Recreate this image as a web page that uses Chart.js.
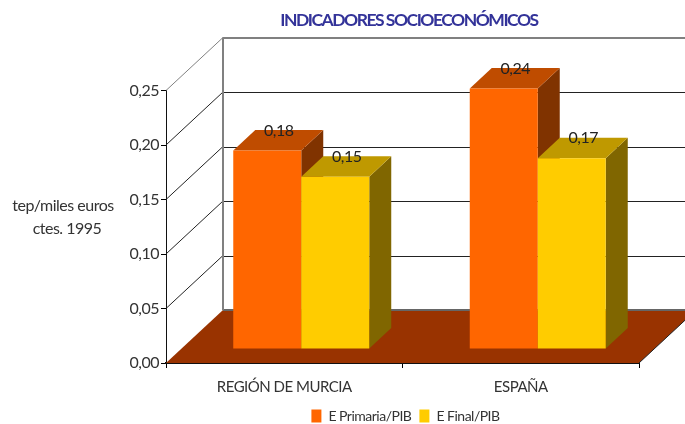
<!DOCTYPE html>
<html>
<head>
<meta charset="utf-8">
<style>html,body{margin:0;padding:0;background:#fff}canvas{display:block}</style>
<script src="https://cdn.jsdelivr.net/npm/chart.js@4"></script>
</head>
<body>
<canvas id="c" width="685" height="424"></canvas>
<script>
const categories = ["REGIÓN DE MURCIA", "ESPAÑA"];
const primariaValues = [0.182, 0.239];
const finalValues = [0.158, 0.175];
const primariaLabels = ["0,18", "0,24"];
const finalLabels = ["0,15", "0,17"];
const seriesNames = ["E Primaria/PIB", "E Final/PIB"];
const axisTitleLines = ["tep/miles euros", "ctes. 1995"];
const chartTitle = "INDICADORES SOCIOECONÓMICOS";

const FONT = 'Lato,"Open Sans",sans-serif';
const TEXT_SPACING = "-0.5px";
const TITLE_SPACING = "-1.5px";
const WALL = {dx: 57, dy: -53};
const BAR_SHIFT = {x: 17, y: -14};
const BAR_DEPTH = {dx: 22, dy: -20.5};
const faces = [
  {top: "#BF4C00", side: "#803300", labels: primariaLabels},
  {top: "#BF9900", side: "#806600", labels: finalLabels}
];

const box3d = {
  id: "box3d",
  beforeUpdate(chart) { chart.ctx.letterSpacing = TEXT_SPACING; },
  beforeDraw(chart) { chart.ctx.letterSpacing = TEXT_SPACING; },
  beforeDatasetsDraw(chart) {
    const {ctx, chartArea: a, scales: {y}} = chart;
    const x0 = a.left, x1 = a.right, y0 = y.getPixelForValue(0);
    ctx.save();
    // floor
    ctx.fillStyle = "#993300";
    ctx.beginPath();
    ctx.moveTo(x0, y0); ctx.lineTo(x1, y0);
    ctx.lineTo(x1 + WALL.dx, y0 + WALL.dy); ctx.lineTo(x0 + WALL.dx, y0 + WALL.dy);
    ctx.closePath(); ctx.fill();
    ctx.strokeStyle = "#222"; ctx.lineWidth = 1;
    ctx.beginPath(); ctx.moveTo(x1, y0); ctx.lineTo(x1 + WALL.dx, y0 + WALL.dy); ctx.stroke();
    // wall grid
    y.ticks.forEach(t => {
      const py = y.getPixelForValue(t.value);
      const isTop = t.value >= y.max - 1e-9, isZero = t.value <= 1e-9;
      ctx.strokeStyle = isTop ? "#808080" : (isZero ? "#666" : "#222");
      ctx.lineWidth = (isTop || isZero) ? 2 : 1;
      const by = Math.round(py + WALL.dy) + ((isTop || isZero) ? 0 : 0.5);
      ctx.beginPath(); ctx.moveTo(x0 + WALL.dx, by); ctx.lineTo(x1 + WALL.dx, by); ctx.stroke();
      ctx.strokeStyle = isTop ? "#808080" : "#222"; ctx.lineWidth = 1;
      if (!isZero) {
        ctx.beginPath(); ctx.moveTo(x0, py); ctx.lineTo(x0 + WALL.dx, py + WALL.dy); ctx.stroke();
      }
    });
    ctx.strokeStyle = "#808080"; ctx.lineWidth = 2;
    ctx.beginPath(); ctx.moveTo(x0 + WALL.dx, y.getPixelForValue(y.max) + WALL.dy);
    ctx.lineTo(x0 + WALL.dx, y0 + WALL.dy); ctx.stroke();
    ctx.restore();
  },
  // the library's default back-to-front order is replaced: series are painted left to right
  beforeDatasetDraw() { return false; },
  afterDatasetsDraw(chart) {
    const {ctx} = chart;
    ctx.save();
    ctx.translate(BAR_SHIFT.x, BAR_SHIFT.y);
    const {dx, dy} = BAR_DEPTH;
    faces.forEach((f, i) => {
      chart.getDatasetMeta(i).data.forEach(b => {
        const hw = b.width / 2, l = b.x - hw, r = b.x + hw, t = b.y, bt = b.base;
        ctx.fillStyle = f.side;
        ctx.beginPath();
        ctx.moveTo(r, t); ctx.lineTo(r + dx, t + dy); ctx.lineTo(r + dx, bt + dy); ctx.lineTo(r, bt);
        ctx.closePath(); ctx.fill();
        ctx.fillStyle = f.top;
        ctx.beginPath();
        ctx.moveTo(l, t); ctx.lineTo(l + dx, t + dy); ctx.lineTo(r + dx, t + dy); ctx.lineTo(r, t);
        ctx.closePath(); ctx.fill();
        b.draw(ctx);
      });
    });
    ctx.restore();
    ctx.save();
    ctx.font = "16px " + FONT;
    ctx.fillStyle = "#222";
    ctx.textAlign = "center"; ctx.textBaseline = "middle";
    faces.forEach((f, i) => {
      chart.getDatasetMeta(i).data.forEach((b, j) => {
        ctx.fillText(f.labels[j], b.x + BAR_SHIFT.x + 11.5, b.y + BAR_SHIFT.y - 20);
      });
    });
    ctx.restore();
  },
  afterDraw(chart) {
    const {ctx} = chart;
    ctx.save();
    ctx.font = "16px " + FONT;
    ctx.fillStyle = "#333";
    ctx.textAlign = "center"; ctx.textBaseline = "middle";
    ctx.fillText(axisTitleLines[0], 63, 206);
    ctx.fillText(axisTitleLines[1], 67, 229);
    ctx.restore();
  },
  afterLayout(chart) {
    const t = chart.titleBlock, lg = chart.legend, ctx = chart.ctx;
    t.left += 6.5; t.right += 6.5;
    lg.left += 3; lg.right += 3; lg.top -= 3; lg.bottom -= 3;
    if (!t._spaced) {
      t._spaced = true;
      const draw = t.draw;
      t.draw = function () {
        ctx.letterSpacing = TITLE_SPACING;
        draw.call(t);
        ctx.letterSpacing = TEXT_SPACING;
      };
    }
  }
};

new Chart(document.getElementById("c"), {
  type: "bar",
  data: {
    labels: categories,
    datasets: [
      {label: seriesNames[0], data: primariaValues, backgroundColor: "#FF6600"},
      {label: seriesNames[1], data: finalValues, backgroundColor: "#FFCC00"}
    ]
  },
  options: {
    responsive: false,
    animation: false,
    devicePixelRatio: 1,
    categoryPercentage: 0.575,
    barPercentage: 1,
    layout: {padding: {left: 0, right: 46, top: 0, bottom: -12}},
    plugins: {
      tooltip: {enabled: false},
      title: {
        display: true, text: chartTitle, fullSize: false, color: "#333399",
        font: {family: FONT, size: 17.5, weight: "bold", lineHeight: 1.2},
        padding: {top: 9.5, bottom: 60}
      },
      legend: {
        position: "bottom", fullSize: false,
        labels: {boxWidth: 10, boxHeight: 13, color: "#333", padding: 8, font: {family: FONT, size: 14}}
      }
    },
    scales: {
      x: {
        afterFit(s) { s.height = 41; },
        grid: {offset: true, drawOnChartArea: false, color: "#000", tickLength: 5},
        border: {color: "#111", width: 2},
        ticks: {color: "#333", padding: 10, maxRotation: 0, font: {family: FONT, size: 15}}
      },
      y: {
        min: 0, max: 0.25,
        afterFit(s) { s.width = 166; },
        grid: {drawOnChartArea: false, color: "#000", tickLength: 5},
        border: {color: "#111", width: 1},
        ticks: {
          stepSize: 0.05, color: "#333", padding: 2, font: {family: FONT, size: 16},
          callback: v => v.toFixed(2).replace(".", ",")
        }
      }
    }
  },
  plugins: [box3d]
});
</script>
</body>
</html>
